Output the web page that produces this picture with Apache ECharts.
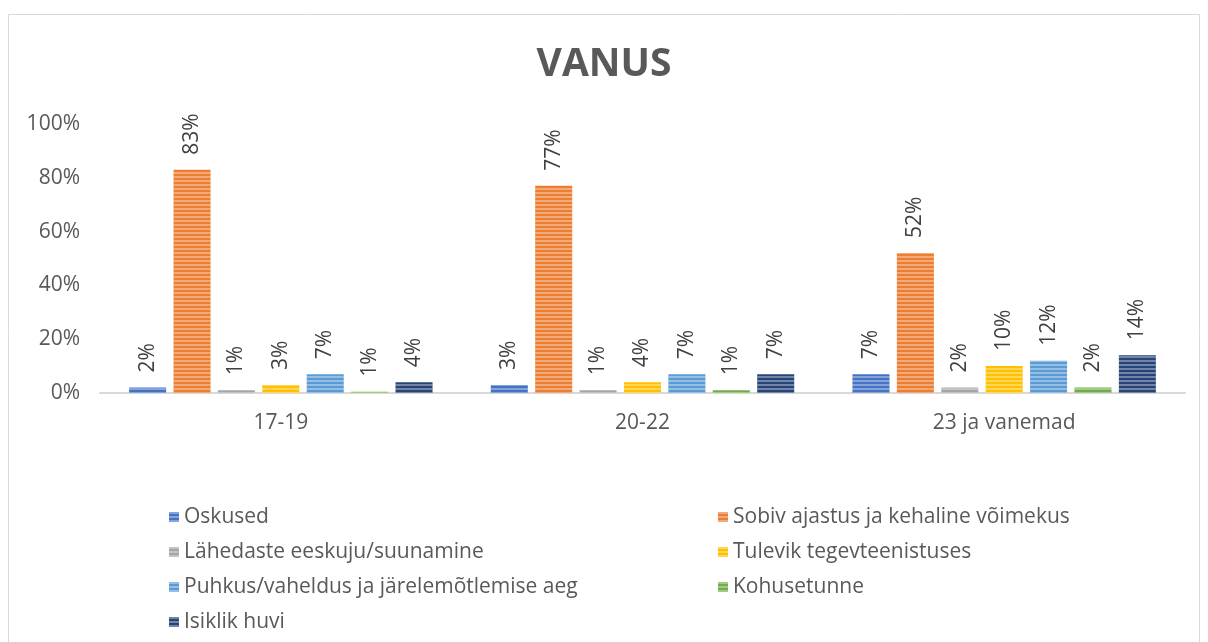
<!DOCTYPE html>
<html>
<head>
<meta charset="utf-8">
<script src="https://cdn.jsdelivr.net/npm/echarts@6/dist/echarts.min.js"></script>
<style>
  html, body { margin: 0; padding: 0; background: #fff; }
  #chart { width: 1208px; height: 642px; }
</style>
</head>
<body>
<div id="chart"></div>
<script>
// vanuserühmad
const categories = ['17-19', '20-22', '23 ja vanemad'];

// põhjused, protsentides
const seriesNames = [
  'Oskused',
  'Sobiv ajastus ja kehaline võimekus',
  'Lähedaste eeskuju/suunamine',
  'Tulevik tegevteenistuses',
  'Puhkus/vaheldus ja järelemõtlemise aeg',
  'Kohusetunne',
  'Isiklik huvi'
];
const oskused = [2, 3, 7];
const sobivAjastus = [83, 77, 52];
const lahedaste = [1, 1, 2];
const tulevik = [3, 4, 10];
const puhkus = [7, 7, 12];
const kohusetunne = [0.5, 1, 2];
const isiklikHuvi = [4, 7, 14];

const yTicks = [0, 20, 40, 60, 80, 100];

const colors = ['#4472C4', '#ED7D31', '#A5A5A5', '#FFC000', '#5B9BD5', '#70AD47', '#264478'];
const allValues = [oskused, sobivAjastus, lahedaste, tulevik, puhkus, kohusetunne, isiklikHuvi];

const FONT = 'Open Sans';
const TXT = 21;

let chart = echarts.init(document.getElementById('chart'));

// horisontaalsed triibud nagu Exceli mustris
const stripes = {
  symbol: 'rect',
  symbolSize: 1,
  dashArrayX: [1, 0],
  dashArrayY: [2, 2],
  rotation: 0,
  color: 'rgba(255,255,255,0.35)'
};

const series = seriesNames.map((name, i) => ({
  name: name,
  type: 'bar',
  barWidth: 37,
  barGap: '20%',
  data: allValues[i],
  itemStyle: { color: colors[i], decal: stripes },
  label: {
    show: true,
    position: 'top',
    rotate: 90,
    align: 'left',
    verticalAlign: 'middle',
    distance: 15,
    fontFamily: FONT,
    fontSize: TXT,
    color: '#404040',
    formatter: p => Math.round(p.value) + '%'
  }
}));

const legendBase = {
  orient: 'vertical',
  top: 500,
  icon: 'rect',
  itemWidth: 10,
  itemHeight: 10,
  itemGap: 11,
  textStyle: { fontFamily: FONT, fontSize: TXT, color: '#595959', lineHeight: 24 }
};

const option = {
  animation: false,
  backgroundColor: '#fff',
  title: {
    text: 'VANUS',
    left: 'center',
    top: 40,
    textStyle: {
      fontFamily: FONT,
      fontSize: 39,
      fontWeight: 'bold',
      color: '#595959'
    }
  },
  graphic: [{
    type: 'rect',
    shape: { x: 8.5, y: 14.5, width: 1191, height: 640 },
    style: { fill: 'none', stroke: '#d9d9d9', lineWidth: 1 },
    silent: true
  }],
  legend: [
    Object.assign({}, legendBase, {
      left: 164,
      data: [seriesNames[0], seriesNames[2], seriesNames[4], seriesNames[6]]
    }),
    Object.assign({}, legendBase, {
      left: 713,
      data: [seriesNames[1], seriesNames[3], seriesNames[5]]
    })
  ],
  grid: {
    left: 100,
    right: 23,
    top: 124,
    bottom: 249,
    containLabel: false
  },
  xAxis: {
    type: 'category',
    data: categories,
    axisTick: { show: false },
    axisLine: { lineStyle: { color: '#d9d9d9', width: 2 } },
    axisLabel: {
      margin: 20,
      fontFamily: FONT,
      fontSize: TXT,
      color: '#595959'
    }
  },
  yAxis: {
    type: 'value',
    min: yTicks[0],
    max: yTicks[yTicks.length - 1],
    interval: yTicks[1] - yTicks[0],
    axisLine: { show: false },
    axisTick: { show: false },
    splitLine: { show: false },
    axisLabel: {
      margin: 20,
      fontFamily: FONT,
      fontSize: TXT,
      color: '#595959',
      formatter: '{value}%'
    }
  },
  series: series
};

chart.setOption(option);
</script>
</body>
</html>
